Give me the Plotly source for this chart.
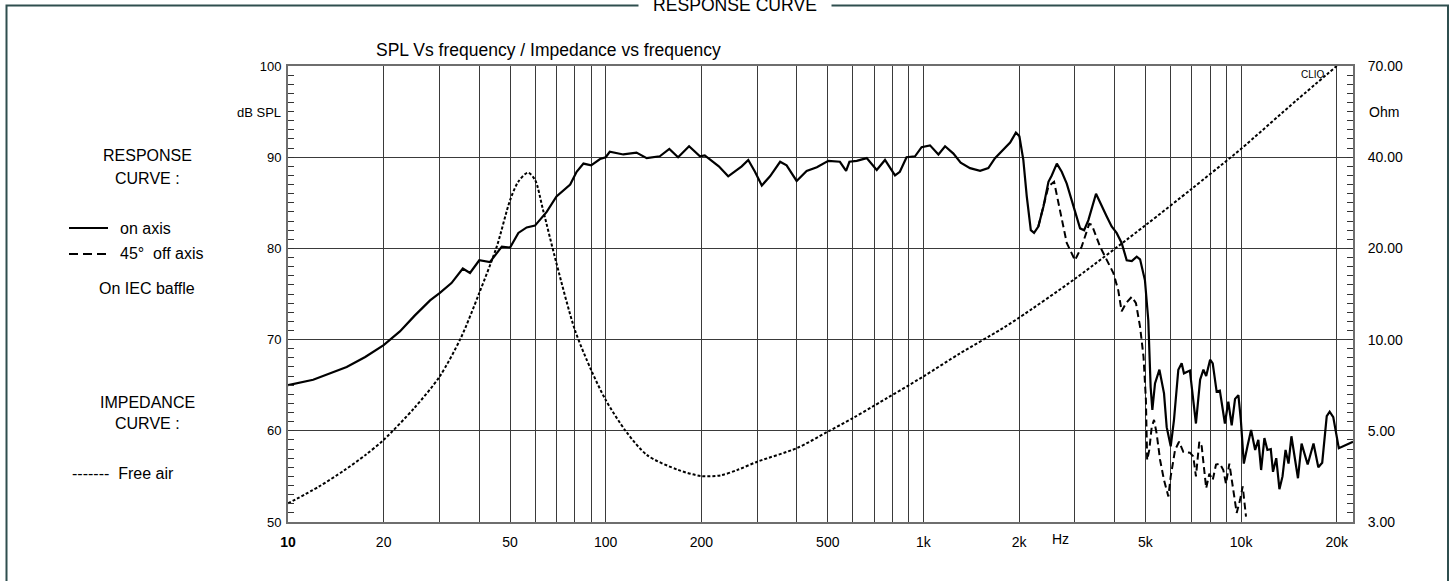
import numpy as np
import plotly.graph_objects as go

# ---------------- data ----------------
on_freq = [10, 12, 15.3, 17.5, 20, 22.5, 25, 28, 30, 32.7, 35.5, 37.4, 40, 43.2, 47.1, 50, 53.1, 56.4,
           59.9, 65.2, 70, 77.3, 81, 85.1, 90, 96, 100, 103, 113.6, 125, 134.6, 148, 158.6, 169, 183,
           198, 205, 221, 227, 243, 258, 268, 281, 295, 310, 329, 354, 371, 399, 429, 462, 502, 546,
           571, 585, 617, 663, 713, 757, 814, 843, 885, 941, 987, 1049, 1115, 1170, 1243, 1310, 1402,
           1508, 1601, 1680, 1785, 1875, 1955, 2005, 2063, 2115, 2178, 2230, 2300, 2387, 2475, 2535,
           2630, 2725, 2826, 3000, 3113, 3205, 3306, 3494, 3685, 3776, 3913, 4056, 4207, 4364, 4528,
           4693, 4808, 4981, 5104, 5191, 5255, 5358, 5532, 5719, 5831, 6004, 6148, 6344, 6500, 6608,
           6899, 7208, 7430, 7610, 7763, 7988, 8140, 8375, 8572, 8892, 9115, 9340, 9570, 9805, 9980,
           10200, 10470, 10750, 11070, 11330, 11560, 11840, 12100, 12400, 12600, 12900, 13200, 13500,
           13800, 14100, 14400, 14800, 15100, 15500, 16200, 16900, 17500, 18000, 18600, 19000, 19500,
           20300, 21300, 22500]
on_db = [65.0, 65.6, 67.0, 68.1, 69.4, 70.9, 72.6, 74.3, 75.1, 76.2, 77.8, 77.3, 78.7, 78.5, 80.2, 80.1,
         81.7, 82.3, 82.5, 84.0, 85.7, 87.0, 88.4, 89.3, 89.1, 89.8, 90.0, 90.6, 90.3, 90.5, 89.9, 90.1,
         90.9, 90.0, 91.2, 90.1, 90.2, 89.3, 89.0, 87.9, 88.6, 89.0, 89.7, 88.4, 86.9, 87.9, 89.5, 89.1,
         87.4, 88.5, 88.9, 89.6, 89.5, 88.5, 89.5, 89.6, 89.9, 88.6, 89.7, 88.0, 88.4, 90.0, 90.1, 91.1,
         91.3, 90.3, 91.2, 90.4, 89.4, 88.8, 88.5, 88.8, 89.9, 90.9, 91.6, 92.7, 92.3, 89.7, 85.7, 82.0,
         81.7, 82.4, 84.6, 87.3, 88.0, 89.3, 88.4, 87.1, 84.2, 82.2, 82.0, 83.1, 86.0, 84.2, 83.5, 82.4,
         81.7, 80.6, 78.7, 78.6, 79.1, 78.8, 76.5, 72.1, 64.8, 62.3, 65.2, 66.7, 64.1, 60.4, 58.3, 61.2,
         66.7, 67.4, 66.3, 66.6, 60.8, 65.6, 66.7, 66.0, 67.8, 67.4, 64.3, 64.4, 60.8, 63.2, 60.6, 63.5,
         63.9, 61.2, 56.4, 58.3, 60.1, 57.9, 59.0, 55.7, 59.2, 57.9, 58.0, 55.5, 57.0, 53.6, 55.0, 57.9,
         56.4, 59.4, 56.6, 54.8, 58.6, 56.3, 58.6, 56.0, 56.5, 61.6, 62.1, 61.5, 58.1, 58.4, 58.8]

off_freq = [2300, 2387, 2475, 2578, 2692, 2826, 3000, 3149, 3327, 3388, 3597, 3776, 3962, 4105, 4207,
            4345, 4528, 4667, 4808, 4930, 5016, 5062, 5140, 5231, 5320, 5422, 5559, 5719, 5902, 6004,
            6196, 6377, 6577, 6899, 7070, 7208, 7386, 7516, 7763, 7943, 8140, 8337, 8572, 8790, 8962,
            9183, 9340, 9500, 9685, 9922, 10117, 10360]
off_db = [82.4, 84.6, 86.8, 87.3, 84.2, 80.6, 78.7, 80.2, 82.7, 82.6, 80.2, 78.7, 77.3, 75.4, 73.1,
          74.0, 74.7, 74.0, 71.4, 68.1, 63.4, 56.8, 57.9, 60.4, 61.2, 59.7, 56.8, 54.6, 52.8, 55.0,
          57.9, 58.8, 57.7, 57.6, 57.2, 55.0, 58.8, 58.3, 53.7, 55.3, 54.6, 56.3, 56.4, 55.7, 54.2,
          56.4, 54.6, 52.8, 51.0, 52.4, 53.9, 50.6]

imp_freq = [10, 12.5, 15, 17.5, 20, 25, 30, 35, 40, 45.4, 50, 53.1, 56.9, 59.9, 63.5, 70, 80, 90, 100,
            116, 135, 169, 200, 230, 260, 300, 400, 500, 600, 700, 1000, 1300, 1741, 2000, 3000, 5000,
            7000, 9200, 10000, 15000, 20000]
imp_ohm = [3.41, 3.83, 4.28, 4.76, 5.29, 6.6, 8.19, 10.7, 14.6, 20.1, 27.7, 31.5, 33.5, 31.9, 25.9,
           17.9, 11.3, 8.57, 6.97, 5.6, 4.76, 4.30, 4.12, 4.14, 4.3, 4.55, 5.0, 5.6, 6.15, 6.7, 8.2,
           9.6, 11.3, 12.3, 16.1, 23.3, 30.0, 37.0, 39.5, 55.4, 70.0]

x_tickvals = [10, 20, 50, 100, 200, 500, 1000, 2000, 5000, 10000, 20000]
x_ticktext = ["<b>10</b>", "20", "50", "100", "200", "500", "1k", "2k", "5k", "10k", "20k"]
spl_ticks = [50, 60, 70, 80, 90, 100]
ohm_ticktext = ["3.00", "5.00", "10.00", "20.00", "40.00", "70.00"]

# ---------------- layout geometry ----------------
W, H = 1455, 581
L, R, T, B = 288, 1353, 66, 522


def px(x):
    return (x - L) / (R - L)


def py(y):
    return (B - y) / (B - T)


FONT = "Arial, 'Liberation Sans', sans-serif"
GRID = "#3a3a3a"
AXLINE = "#6e6e6e"

# minor grid positions: all integer multiples per decade
minor_x = [m * d for d in [10, 100, 1000, 10000] for m in range(2, 10)
           if m * d not in x_tickvals and m * d <= 22000]

# impedance axis: 5 equal divisions on a log scale between 3 and 70 ohm
z0, z1 = np.log10(3), np.log10(70)
ohm_tickvals = [10 ** (z0 + k * (z1 - z0) / 5) for k in range(6)]
ohm_minor = [10 ** (z0 + k * (z1 - z0) / 50) for k in range(1, 50) if k % 10]

fig = go.Figure()
fig.add_trace(go.Scatter(x=off_freq, y=off_db, mode="lines", yaxis="y",
                         line=dict(color="black", width=2, dash="7px,4px")))
fig.add_trace(go.Scatter(x=on_freq, y=on_db, mode="lines", yaxis="y",
                         line=dict(color="black", width=2.2)))
fig.add_trace(go.Scatter(x=imp_freq, y=imp_ohm, mode="lines", yaxis="y2",
                         line=dict(color="black", width=2, dash="3px,2px", shape="spline", smoothing=0.8)))

fig.update_layout(
    width=W, height=H,
    margin=dict(l=L, r=W - R, t=T, b=H - B),
    paper_bgcolor="white", plot_bgcolor="white",
    showlegend=False,
    font=dict(family=FONT, color="black", size=13),
    xaxis=dict(type="log", range=[1, np.log10(22500)],
               tickmode="array", tickvals=x_tickvals, ticktext=x_ticktext,
               tickfont=dict(size=14), ticks="", ticklabelstandoff=6,
               showgrid=True, gridcolor=GRID, gridwidth=1,
               minor=dict(tickmode="array", tickvals=minor_x, showgrid=True,
                          gridcolor=GRID, gridwidth=1, ticks=""),
               showline=True, linecolor=AXLINE, linewidth=2, mirror=True,
               zeroline=False),
    yaxis=dict(range=[50, 100], tickmode="array", tickvals=spl_ticks,
               tickfont=dict(size=13), ticks="inside", ticklen=6, tickcolor="#333",
               ticklabelstandoff=2,
               showgrid=True, gridcolor=GRID, gridwidth=1,
               minor=dict(dtick=1, ticks="inside", ticklen=6, tickcolor="#333", showgrid=False),
               showline=True, linecolor=AXLINE, linewidth=2, zeroline=False),
    yaxis2=dict(type="log", range=[z0, z1], overlaying="y", side="right",
                tickmode="array", tickvals=ohm_tickvals, ticktext=ohm_ticktext,
                tickfont=dict(size=14), ticks="inside", ticklen=6, tickcolor="#333",
                ticklabelstandoff=10,
                showgrid=False,
                minor=dict(tickmode="array", tickvals=ohm_minor, ticks="inside",
                           ticklen=6, tickcolor="#333", showgrid=False),
                showline=True, linecolor=AXLINE, linewidth=2, zeroline=False),
)

ann = []


def text(s, x, y, size=16, anchor="center", **kw):
    ann.append(dict(text=s, x=px(x), y=py(y), xref="paper", yref="paper",
                    xanchor=anchor, yanchor="middle", showarrow=False,
                    font=dict(size=size, family=FONT, color="black"), **kw))


# frame title
text("RESPONSE CURVE", 735, 5, size=17.6, bgcolor="white", borderpad=14)
# chart title
text("SPL Vs frequency / Impedance vs frequency", 548.5, 50, size=17.5)
# axis unit labels
text("dB SPL", 283, 112, size=13, anchor="right")
text("Ohm", 1367, 112, size=14, anchor="left")
text("CLIO", 1313, 74, size=10)
text("Hz", 1060, 539, size=14)
# left legend block
text("RESPONSE", 147, 155)
text("CURVE :", 147, 178)
text("on axis", 118, 228, anchor="left")
text("45°\u00a0\u00a0off axis", 118, 254, anchor="left")
text("On IEC baffle", 147, 288)
text("IMPEDANCE", 147, 402)
text("CURVE :", 147, 423)
text("-------\u00a0\u00a0Free air", 70, 473, anchor="left")
fig.update_layout(annotations=ann)

shapes = [
    # outer frame
    dict(type="rect", xref="paper", yref="paper", x0=px(6.5), x1=px(1448), y0=py(640), y1=py(5.5),
         line=dict(color="#2f4f4f", width=2), fillcolor="rgba(0,0,0,0)", layer="above"),
    # legend samples
    dict(type="line", xref="paper", yref="paper", x0=px(69), x1=px(108), y0=py(228), y1=py(228),
         line=dict(color="black", width=2)),
    dict(type="line", xref="paper", yref="paper", x0=px(69), x1=px(108), y0=py(254), y1=py(254),
         line=dict(color="black", width=2, dash="9px,5px")),
]
fig.update_layout(shapes=shapes)

fig.write_html("out.html",
               config={"displayModeBar": False, "staticPlot": True},
               post_script="document.body.style.margin='0px';document.body.style.overflow='hidden';")
